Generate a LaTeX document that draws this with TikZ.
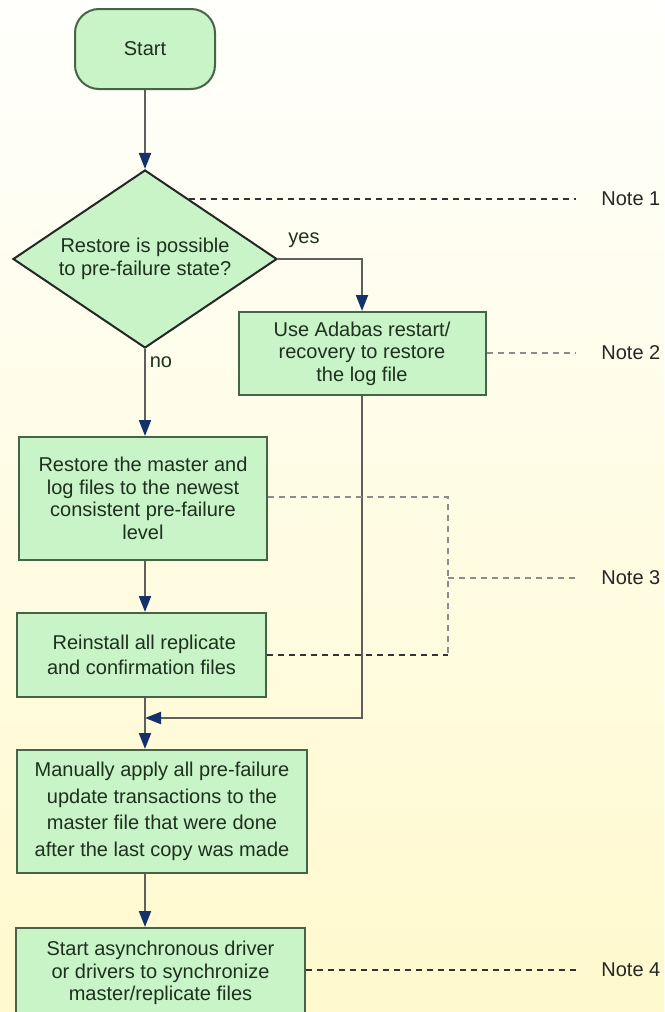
\documentclass[tikz,border=0pt]{standalone}
\usepackage{fontspec}
\setmainfont{Liberation Sans}
\usetikzlibrary{shapes.geometric,arrows.meta,calc}

\definecolor{boxfill}{RGB}{200,244,200}
\definecolor{boxline}{RGB}{70,100,70}
\definecolor{boxtext}{RGB}{30,48,30}
\definecolor{arrowblue}{RGB}{20,50,105}
\definecolor{flowgray}{RGB}{95,95,95}
\definecolor{bgtop}{RGB}{255,255,252}
\definecolor{bgbottom}{RGB}{255,249,205}

\begin{document}
\begin{tikzpicture}[x=0.5pt,y=-0.5pt,
    every node/.style={font=\fontsize{10}{11.3}\selectfont, text=boxtext},
    stepbox/.style={draw=boxline, fill=boxfill, line width=1pt, align=center, inner sep=0pt},
    flow/.style={draw=flowgray, line width=1pt, -{Triangle[width=6pt,length=8pt,color=arrowblue]}},
    notedark/.style={draw=black!80, line width=1pt, dash pattern=on 3pt off 2.5pt},
    notelight/.style={draw=black!45, line width=1pt, dash pattern=on 3pt off 2.5pt},
    notelabel/.style={anchor=west, inner sep=0pt, text=black!85}]
            % background
            \shade[top color=bgtop, bottom color=bgbottom] (0,0) rectangle (664,1012);
            \useasboundingbox (0,0) rectangle (664,1012);
            % flow steps
            \node[stepbox, rounded corners=12pt, minimum width=70pt, minimum height=40pt] (start) at (145,49) {Start};
            \node[stepbox, diamond, draw=black!85, aspect=1.5, minimum width=132pt, minimum height=89pt] (dec) at (145,259) {Restore is possible\\to pre-failure state?};
            \node[stepbox, minimum width=123.5pt, minimum height=41.5pt] (use) at (362,353.5) {Use Adabas restart/\\recovery to restore\\the log file};
            \node[stepbox, minimum width=124pt, minimum height=61.5pt] (restore) at (143,498.5) {Restore the master and\\log files to the newest\\consistent pre-failure\\level};
            \node[stepbox, minimum width=124.5pt, minimum height=42pt, font=\fontsize{10}{12.5}\selectfont] (reinst) at (141.5,655) {\ Reinstall all replicate\\and confirmation files};
            \node[stepbox, minimum width=145pt, minimum height=61.5pt, font=\fontsize{10}{13.3}\selectfont] (manual) at (162,811.5) {Manually apply all pre-failure\\update transactions to the\\master file that were done\\after the last copy was made};
            \node[stepbox, minimum width=144.5pt, minimum height=45pt] (async) at (160.5,973) {Start asynchronous driver\\or drivers to synchronize\\master/replicate files};
            % notes
            \node[notelabel] (note1) at (601,199) {Note 1};
            \node[notelabel] (note2) at (601,353) {Note 2};
            \node[notelabel] (note3) at (601,578) {Note 3};
            \node[notelabel] (note4) at (601,970) {Note 4};
            \node (yes) at (304,240) {yes};
            \node (no) at (161,362) {no};
            % connectors
            \coordinate (merge) at (145,718);
            \draw[flow] (start) -- (dec);
            \draw[flow] (dec.east) -| (use.north);
            \draw[flow] (dec.south) -- (dec.south |- restore.north);
            \draw[flow] (restore.south -| dec.south) -- (reinst.north -| dec.south);
            \draw[flow] (use.south) |- (merge);
            \draw[flow] (reinst.south -| dec.south) -- (manual.north -| dec.south);
            \draw[flow] (manual.south -| dec.south) -- (async.north -| dec.south);
            % dashed note lines
            \draw[notedark, shorten >=12.5pt] ($(dec.north)!0.33!(dec.east)$) coordinate (n1) -- (n1 -| note1.west);
            \draw[notelight, shorten >=12.5pt] (use.east |- note2) -- (note2.west);
            \draw[notelight] (restore.east |- 0,497) -- (448,497) -- (448,655);
            \draw[notedark] (reinst.east |- 0,655) -- (448,655);
            \draw[notelight, shorten >=12.5pt] (448,578) -- (note3.west);
            \draw[notedark, shorten >=12.5pt] (async.east |- note4) -- (note4.west);
        \end{tikzpicture}
\end{document}
